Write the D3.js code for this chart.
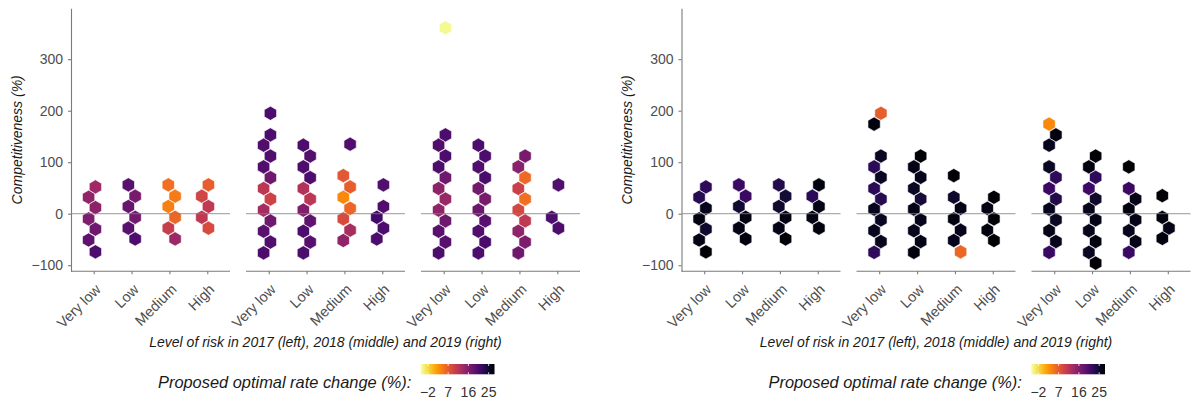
<!DOCTYPE html>
<html><head><meta charset="utf-8">
<script src="https://cdn.jsdelivr.net/npm/d3@7"></script>
<style>
html,body{margin:0;padding:0;background:#fff;}
svg{display:block;font-family:"Liberation Sans",Arial,Helvetica,sans-serif;}
</style></head>
<body>
<svg id="chart" width="1195" height="402"></svg>
<script>
// ---- data ----
const categories = ["Very low", "Low", "Medium", "High"];
const yTicks = [-100, 0, 100, 200, 300];
const legendTicks = [-2, 7, 16, 25];
const fillRange = [-5.2, 27.6];
const yTitle = "Competitiveness (%)";
const xTitle = "Level of risk in 2017 (left), 2018 (middle) and 2019 (right)";
const legendTitle = "Proposed optimal rate change (%):";

// hex cells: [x (category position), competitiveness %, proposed rate change %]
// Figure A
const hexA2017 = [
  [1.045,52,13.5],[0.865,32,14.8],[1.045,12,15.1],[0.865,-10,16.4],[1.045,-30,17.4],[0.865,-51,18.7],[1.045,-74,20.1],
  [1.915,56,19.4],[2.095,34,16.8],[1.915,14,18.1],[2.095,-7,17.1],[1.915,-28,19.1],[2.095,-49,20.1],
  [2.97,56,5.3],[3.15,34,4.3],[2.97,14,4.0],[3.15,-7,5.9],[2.97,-28,10.2],[3.15,-49,13.8],
  [4.03,56,6.6],[3.855,34,9.2],[4.03,14,10.9],[3.855,-7,10.9],[4.03,-28,8.6]
];
const hexA2018 = [
  [1.045,195,20.1],[1.045,153,20.1],[0.865,133,19.8],[1.045,112,19.9],[0.865,91,19.8],[1.045,70,17.4],[0.865,49,11.2],
  [1.045,28.5,9.6],[0.865,7,13.2],[1.045,-14,17.4],[0.865,-34,19.1],[1.045,-55,19.8],[0.865,-76,20.1],
  [1.915,133,20.1],[2.095,112,19.6],[1.915,91,20.1],[2.095,70,20.1],[1.915,49,11.9],[2.095,28.5,11.2],[1.915,7,16.1],
  [2.095,-14,18.7],[1.915,-34,20.1],[2.095,-55,19.4],[1.915,-76,20.1],
  [3.15,135,19.8],[2.97,74,7.3],[3.15,52,6.6],[2.97,32,3.3],[3.15,10.5,5.9],[2.97,-10,8.6],[3.15,-32,12.8],[2.97,-52,14.8],
  [4.03,56,19.8],[4.03,14,19.8],[3.855,-7,21.0],[4.03,-28,20.1],[3.855,-49,20.1]
];
const hexA2019 = [
  [1.045,361,-4.5],
  [1.045,153,20.1],[0.865,133,19.8],[1.045,112,20.1],[0.865,91,20.1],[1.045,70,17.4],[0.865,49,15.1],[1.045,28.5,14.2],
  [0.865,7,14.8],[1.045,-14,17.4],[0.865,-34,19.1],[1.045,-55,19.4],[0.865,-76,20.1],
  [1.915,133,20.1],[2.095,112,20.1],[1.915,91,19.8],[2.095,70,20.3],[1.915,49,17.1],[2.095,28.5,16.8],[1.915,7,17.8],
  [2.095,-14,19.4],[1.915,-34,19.8],[2.095,-55,20.3],[1.915,-76,20.1],
  [3.15,112,16.8],[2.97,91,15.4],[3.15,70,5.6],[2.97,49,9.9],[3.15,28.5,5.3],[2.97,7,8.9],[3.15,-14,10.9],[2.97,-34,14.8],
  [3.15,-55,16.4],[2.97,-76,17.4],
  [4.03,56,19.8],[3.855,-7,20.1],[4.03,-28,20.1]
];
// Figure B
const hexB2017 = [
  [1.045,52,22.4],[0.865,32,23.0],[1.045,10.5,26.0],[0.865,-10,26.6],[1.045,-30,25.0],[0.865,-51,26.3],[1.045,-74,27.4],
  [1.915,56,21.7],[2.095,34,21.7],[1.915,14,24.7],[2.095,-7,26.6],[1.915,-28,26.3],[2.095,-49,26.8],
  [2.97,56,23.3],[3.15,34,24.4],[2.97,14,25.0],[3.15,-7,26.6],[2.97,-28,26.3],[3.15,-49,27.2],
  [4.03,56,26.8],[3.855,34,22.7],[4.03,14,26.3],[3.855,-7,26.4],[4.03,-28,26.8]
];
const hexB2018 = [
  [1.045,195,6.6],[0.865,174,26.8],[1.045,112,25.6],[0.865,91,22.7],[1.045,70.7,25.6],[0.865,49,22.7],[1.045,28.5,23.0],
  [0.865,9,26.0],[1.045,-12,25.6],[0.865,-33,26.0],[1.045,-54,26.0],[0.865,-75,22.4],
  [2.095,112,27.3],[1.915,91,26.3],[2.095,70.7,26.0],[1.915,49,25.6],[2.095,28.5,24.3],[1.915,9,26.3],[2.095,-12,26.0],
  [1.915,-33,26.0],[2.095,-54,26.3],[1.915,-75,26.8],
  [2.97,74,27.4],[2.97,32,25.0],[3.15,10.5,26.3],[2.97,-10,26.8],[3.15,-32,26.0],[2.97,-52,26.0],[3.15,-74,5.9],
  [4.03,32,27.4],[3.855,10.5,26.4],[4.03,-10,27.3],[3.855,-32,26.8],[4.03,-52,27.4]
];
const hexB2019 = [
  [0.865,174,3.3],[1.045,153,26.8],[0.865,133,26.0],[0.865,91,25.6],[1.045,70.7,22.4],[0.865,49,21.5],[1.045,28.5,23.6],
  [0.865,9,26.0],[1.045,-12,25.6],[0.865,-33,26.3],[1.045,-54,26.0],[0.865,-75,21.6],
  [2.095,112,27.3],[1.915,91,26.8],[2.095,70.7,22.4],[1.915,49,21.3],[2.095,28.5,25.0],[1.915,9,26.0],[2.095,-12,26.3],
  [1.915,-33,26.0],[2.095,-54,26.8],[1.915,-75,25.6],[2.095,-96,27.3],
  [2.97,91,27.3],[2.97,49,21.5],[3.15,28.5,26.3],[2.97,9,26.8],[3.15,-12,26.3],[2.97,-33,26.0],[3.15,-54,26.3],[2.97,-75,21.6],
  [3.855,35,27.4],[3.855,-7,26.8],[4.03,-28,26.3],[3.855,-48,26.8]
];

// ---- layout ----
const svg = d3.select("#chart");
const color = d3.scaleSequential(t => d3.interpolateInferno(1 - t)).domain(fillRange);
const yScale = d3.scaleLinear().domain([-111.8, 398.8]).range([271.3, 8.3]);
const panelW = 159, gap = 16;
const axisColor = "#7a7a7a", textColor = "#4d4d4d";
const hexR = 7.1;
function hexPath(r) {
  const pts = d3.range(6).map(i => {
    const a = (Math.PI / 3) * i - Math.PI / 2;
    return [r * Math.cos(a), r * Math.sin(a)];
  });
  return "M" + pts.map(p => p.join(",")).join("L") + "Z";
}
const hexD = hexPath(hexR);

function drawFigure(x0, panels, yTitleX) {
  const fig = svg.append("g");
  // y axis
  const yAxis = d3.axisLeft(yScale).tickValues(yTicks).tickSize(3).tickPadding(5).tickSizeOuter(0);
  const ya = fig.append("g").attr("transform", `translate(${x0},0)`).call(yAxis);
  ya.select(".domain").attr("stroke", axisColor).attr("stroke-width", 1.1);
  ya.selectAll(".tick line").attr("stroke", axisColor).attr("stroke-width", 1.1);
  ya.selectAll(".tick text").attr("fill", textColor).style("font-size", "14px").style("font-family", "Liberation Sans, Arial, sans-serif");

  panels.forEach((data, i) => {
    const px = x0 + i * (panelW + gap);
    const xScale = d3.scaleLinear().domain([0.4, 4.6]).range([px, px + panelW]);
    const g = fig.append("g");
    // hexes
    g.selectAll("path.hex").data(data).join("path")
      .attr("class", "hex")
      .attr("d", hexD)
      .attr("transform", d => `translate(${xScale(d[0])},${yScale(d[1])})`)
      .attr("fill", d => color(d[2]))
      .attr("stroke", "#fff").attr("stroke-width", 0.6);
    // zero line
    g.append("line")
      .attr("x1", px).attr("x2", px + panelW)
      .attr("y1", yScale(0)).attr("y2", yScale(0))
      .attr("stroke", "#808080").attr("stroke-opacity", 0.65).attr("stroke-width", 1.3);
    // x axis
    const xAxis = d3.axisBottom(xScale).tickValues([1, 2, 3, 4]).tickSize(3).tickSizeOuter(0)
      .tickFormat(d => categories[d - 1]);
    const xa = g.append("g").attr("transform", `translate(0,${yScale.range()[0]})`).call(xAxis);
    xa.select(".domain").attr("stroke", axisColor).attr("stroke-width", 1.1).attr("d", `M${px},0H${px + panelW}`);
    xa.selectAll(".tick line").attr("stroke", axisColor).attr("stroke-width", 1.1);
    xa.selectAll(".tick text")
      .attr("fill", textColor).style("font-size", "14.5px")
      .attr("text-anchor", "end").attr("dy", null).attr("y", null)
      .attr("transform", "translate(7.5,19) rotate(-45)");
  });

  // titles
  fig.append("text")
    .attr("transform", `translate(${yTitleX},${(yScale.range()[0] + yScale.range()[1]) / 2}) rotate(-90)`)
    .attr("text-anchor", "middle").style("font-size", "14px").style("font-style", "italic").attr("fill", "#1a1a1a")
    .text(yTitle);
  const xMid = x0 + (3 * panelW + 2 * gap) / 2;
  fig.append("text").attr("x", xMid).attr("y", 347)
    .attr("text-anchor", "middle").style("font-size", "14px").style("font-style", "italic").attr("fill", "#1a1a1a")
    .text(xTitle);

  // legend
  const lx0 = x0 + 349.7, lx1 = x0 + 423.5;
  const lScale = d3.scaleLinear().domain(fillRange).range([lx0, lx1]);
  const gid = "grad" + Math.round(x0);
  const grad = svg.append("defs").append("linearGradient").attr("id", gid).attr("x1", "0%").attr("x2", "100%");
  d3.range(0, 1.0001, 0.05).forEach(t => {
    grad.append("stop").attr("offset", (t * 100) + "%").attr("stop-color", color(fillRange[0] + t * (fillRange[1] - fillRange[0])));
  });
  const lg = fig.append("g");
  lg.append("text").attr("x", x0 + 87).attr("y", 388)
    .style("font-size", "16.4px").style("font-style", "italic").attr("fill", "#1a1a1a").text(legendTitle);
  lg.append("rect").attr("x", lx0).attr("y", 364).attr("width", lx1 - lx0).attr("height", 10.3).attr("fill", `url(#${gid})`);
  legendTicks.forEach(v => {
    const tx = lScale(v);
    lg.append("line").attr("x1", tx).attr("x2", tx).attr("y1", 364).attr("y2", 366).attr("stroke", "#fff").attr("stroke-width", 0.8);
    lg.append("line").attr("x1", tx).attr("x2", tx).attr("y1", 372.3).attr("y2", 374.3).attr("stroke", "#fff").attr("stroke-width", 0.8);
    lg.append("text").attr("x", tx).attr("y", 397).attr("text-anchor", "middle")
      .style("font-size", "14px").attr("fill", "#333").text(d3.format("")(v));
  });
}

drawFigure(71, [hexA2017, hexA2018, hexA2019], 22);
drawFigure(681.5, [hexB2017, hexB2018, hexB2019], 632);
</script>
</body></html>
